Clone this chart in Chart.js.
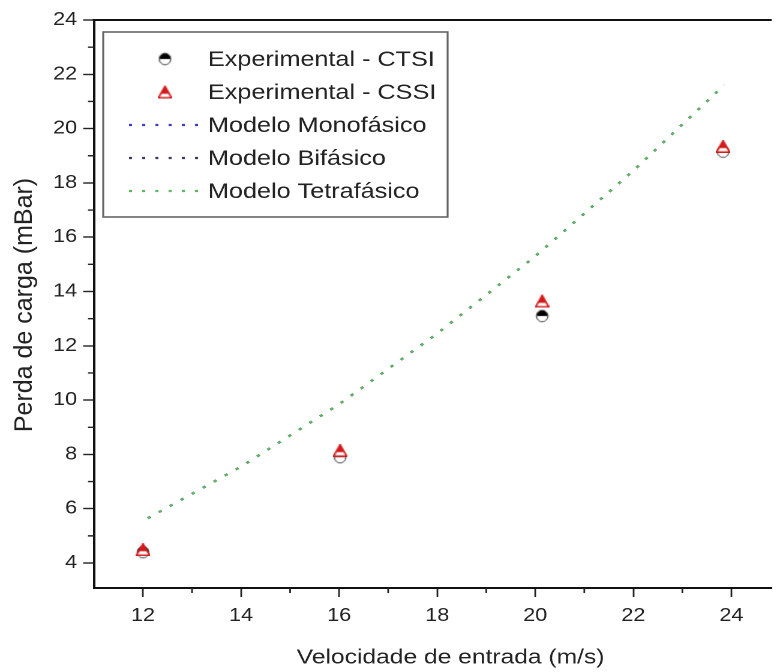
<!DOCTYPE html>
<html>
<head>
<meta charset="utf-8">
<title>Perda de carga</title>
<script src="https://cdn.jsdelivr.net/npm/chart.js@4.4.0/dist/chart.umd.min.js"></script>
<style>
html, body { margin: 0; padding: 0; background: #fff; overflow: hidden; }
#wrap { width: 650px; height: 672px; transform: scaleX(1.2); transform-origin: 0 0; }
</style>
</head>
<body>
<div id="wrap"><canvas id="grafico" width="650" height="672"></canvas></div>
<script>
// dados
var velExp = [12.0, 16.02, 20.14, 23.83];
var perdaCTSI = [4.4, 7.9, 13.1, 19.15];
var perdaCSSI = [4.5, 8.15, 13.65, 19.35];

var velModelo = [12.1, 14, 16, 18, 20, 22, 23.85];
var perdaMono = [5.65, 7.55, 9.85, 12.45, 15.3, 18.45, 21.6];
var perdaBi = [5.65, 7.55, 9.85, 12.45, 15.3, 18.45, 21.6];
var perdaTetra = [5.65, 7.55, 9.85, 12.45, 15.3, 18.45, 21.6];

var ticksX = [12, 14, 16, 18, 20, 22, 24];
var ticksY = [4, 6, 8, 10, 12, 14, 16, 18, 20, 22, 24];
var minorX = [13, 15, 17, 19, 21, 23];
var minorY = [5, 7, 9, 11, 13, 15, 17, 19, 21, 23];

var tituloX = 'Velocidade de entrada (m/s)';
var tituloY = 'Perda de carga (mBar)';

var fonte = '"Liberation Sans", Arial, sans-serif';
var ESTICA = 1.2; // o canvas e esticado na horizontal pelo css

function pares(xs, ys){
    var out = [];
    for(var i = 0; i < xs.length; i++){
        out.push({x: xs[i], y: ys[i]});
    }
    return out;
}

// simbolos meio cheios
function marcaCirculo(){
    var c = document.createElement('canvas');
    c.width = 12; c.height = 14;
    var ctx = c.getContext('2d');
    ctx.fillStyle = '#fff';
    ctx.beginPath(); ctx.ellipse(6, 7, 4.8, 5.8, 0, 0, Math.PI * 2); ctx.fill();
    ctx.fillStyle = '#000';
    ctx.beginPath(); ctx.ellipse(6, 7, 4.8, 5.8, 0, Math.PI, Math.PI * 2); ctx.closePath(); ctx.fill();
    ctx.strokeStyle = '#444'; ctx.lineWidth = 1;
    ctx.beginPath(); ctx.ellipse(6, 7, 4.8, 5.8, 0, 0, Math.PI * 2); ctx.stroke();
    return c;
}
function marcaTriangulo(){
    var c = document.createElement('canvas');
    c.width = 12; c.height = 13;
    var ctx = c.getContext('2d');
    ctx.beginPath();
    ctx.moveTo(6, 0.8); ctx.lineTo(11.4, 12.2); ctx.lineTo(0.6, 12.2); ctx.closePath();
    ctx.fillStyle = '#fff'; ctx.fill();
    ctx.save(); ctx.clip();
    ctx.fillStyle = '#d41c1c'; ctx.fillRect(0, 0, 12, 8.3);
    ctx.restore();
    ctx.strokeStyle = '#d41c1c'; ctx.lineWidth = 1.5; ctx.stroke();
    return c;
}

var circulo = marcaCirculo();
var triangulo = marcaTriangulo();

var eixos = {
    id: 'eixos',
    afterDraw: function(chart){
        var ctx = chart.ctx;
        var a = chart.chartArea;
        var sx = chart.scales.x, sy = chart.scales.y;
        ctx.save();
        ctx.strokeStyle = '#222';
        ctx.lineWidth = 1.4;
        ctx.beginPath();
        minorX.forEach(function(v){
            var px = sx.getPixelForValue(v);
            ctx.moveTo(px, a.bottom); ctx.lineTo(px, a.bottom + 5);
        });
        minorY.forEach(function(v){
            var py = sy.getPixelForValue(v);
            ctx.moveTo(a.left, py); ctx.lineTo(a.left - 5, py);
        });
        ctx.stroke();
        // borda superior
        ctx.strokeStyle = '#111';
        ctx.lineWidth = 2;
        ctx.beginPath();
        ctx.moveTo(a.left - 1, a.top); ctx.lineTo(a.right, a.top);
        ctx.stroke();

        // titulos dos eixos
        ctx.fillStyle = '#222';
        ctx.textAlign = 'center';
        ctx.textBaseline = 'middle';
        ctx.font = '20.5px ' + fonte;
        ctx.fillText(tituloX, 375.5, 658);
        ctx.translate(20.8, (a.top + a.bottom) / 2 + 1);
        ctx.scale(1 / ESTICA, 1);
        ctx.rotate(-Math.PI / 2);
        ctx.font = '25px ' + fonte;
        ctx.fillText(tituloY, 0, 0);
        ctx.restore();
    }
};

var legenda = {
    id: 'legenda',
    afterDraw: function(chart){
        var ctx = chart.ctx;
        ctx.save();
        ctx.fillStyle = '#fff';
        ctx.fillRect(86, 32, 287, 185);
        ctx.strokeStyle = '#666';
        ctx.lineWidth = 1.6;
        ctx.strokeRect(86, 32, 287, 185);
        ctx.font = '21px ' + fonte;
        ctx.textBaseline = 'middle';
        chart.data.datasets.forEach(function(ds, i){
            var y = 59 + i * 33;
            if(ds.showLine === false){
                var img = ds.pointStyle;
                ctx.drawImage(img, 137.5 - img.width / 2, y - img.height / 2);
            }else{
                ctx.setLineDash(ds.borderDash);
                ctx.strokeStyle = ds.borderColor;
                ctx.lineWidth = ds.borderWidth;
                ctx.beginPath();
                ctx.moveTo(107.5, y); ctx.lineTo(166.7, y);
                ctx.stroke();
                ctx.setLineDash([]);
            }
            ctx.fillStyle = '#222';
            ctx.fillText(ds.label, 173.3, y + 1);
        });
        ctx.restore();
    }
};

var grafico = new Chart(document.getElementById('grafico'), {
    type: 'line',
    data: {
        datasets: [{
            label: 'Experimental - CTSI',
            data: pares(velExp, perdaCTSI),
            showLine: false,
            pointStyle: circulo,
            pointRadius: 6,
            order: 1
        },{
            label: 'Experimental - CSSI',
            data: pares(velExp, perdaCSSI),
            showLine: false,
            pointStyle: triangulo,
            pointRadius: 6,
            order: 0
        },{
            label: 'Modelo Monof\u00e1sico',
            data: pares(velModelo, perdaMono),
            borderColor: '#3c3cc8',
            borderWidth: 2.2,
            borderDash: [2.5, 8.5],
            pointRadius: 0,
            order: 4
        },{
            label: 'Modelo Bif\u00e1sico',
            data: pares(velModelo, perdaBi),
            borderColor: '#3a3a5a',
            borderWidth: 2.2,
            borderDash: [2.5, 8.5],
            pointRadius: 0,
            order: 3
        },{
            label: 'Modelo Tetraf\u00e1sico',
            data: pares(velModelo, perdaTetra),
            borderColor: '#5cb85c',
            borderWidth: 2.2,
            borderDash: [2.5, 8.5],
            pointRadius: 0,
            order: 2
        }]
    },
    options: {
        responsive: false,
        animation: false,
        devicePixelRatio: 2,
        layout: { padding: { top: 20, right: 0, left: 0, bottom: 0 } },
        plugins: {
            legend: { display: false },
            tooltip: { enabled: false }
        },
        scales: {
            x: {
                type: 'linear',
                min: 11,
                max: 24.82,
                afterBuildTicks: function(s){ s.ticks = ticksX.map(function(v){ return {value: v}; }); },
                afterFit: function(s){ s.height = 84; },
                grid: { drawOnChartArea: false, tickLength: 9, tickColor: '#222', tickWidth: 1.4 },
                border: { display: true, color: '#111', width: 2 },
                ticks: { color: '#222', font: { family: fonte, size: 18 }, padding: 8 },
                title: { display: false, text: tituloX }
            },
            y: {
                min: 3.08,
                max: 24,
                afterBuildTicks: function(s){ s.ticks = ticksY.map(function(v){ return {value: v}; }); },
                afterFit: function(s){ s.width = 78.3; },
                grid: { drawOnChartArea: false, tickLength: 9, tickColor: '#222', tickWidth: 1.4 },
                border: { display: true, color: '#111', width: 2 },
                ticks: { color: '#222', font: { family: fonte, size: 18 }, padding: 5 },
                title: { display: false, text: tituloY }
            }
        }
    },
    plugins: [eixos, legenda]
});
</script>
</body>
</html>
